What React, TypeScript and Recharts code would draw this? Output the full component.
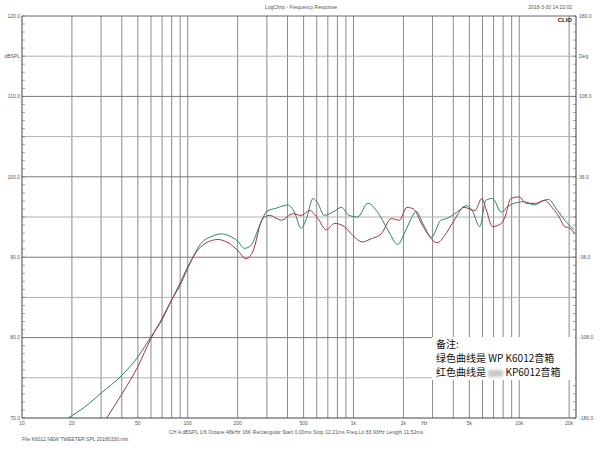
import React from 'react';
import { LineChart, Line, XAxis, YAxis, ReferenceLine } from 'recharts';

// WP K6012 (green) and KP6012 (red), SPL in dB vs frequency in Hz
const GREEN_FREQ = [
  19, 24, 30, 40, 50, 60, 70, 80, 90, 100, 120, 140, 160, 180, 200, 220, 241,
  272, 300, 343, 402, 440, 483, 520, 570, 610, 665, 750, 845, 940, 1060, 1220,
  1400, 1610, 1850, 2030, 2230, 2380, 2650, 2950, 3370, 3640, 4200, 4790, 5200,
  5780, 6300, 6900, 7800, 8400, 9300, 10700, 12400, 13600, 15000, 17000, 19200,
  21500,
];
const GREEN_DB = [
  70.0, 71.4, 73.1, 75.3, 77.6, 80.1, 82.2, 84.7, 86.5, 88.6, 91.7, 92.6, 92.9,
  92.6, 92.0, 91.1, 91.5, 94.0, 95.7, 96.1, 96.5, 95.6, 93.6, 94.8, 97.3, 96.7,
  95.2, 95.6, 96.2, 95.2, 95.0, 96.7, 95.6, 93.4, 91.6, 93.0, 94.8, 95.7, 94.0,
  92.5, 94.6, 94.8, 95.6, 96.4, 95.8, 93.8, 97.1, 97.3, 95.6, 96.2, 96.7, 96.9,
  96.5, 96.9, 97.2, 95.8, 94.4, 93.4,
];

const RED_FREQ = [
  32.4, 40.4, 50, 60, 70, 80, 90, 100, 120, 152, 175, 199, 225, 247, 283, 312,
  367, 430, 483, 545, 610, 685, 770, 880, 990, 1130, 1280, 1470, 1690, 1890,
  2100, 2300, 2600, 3200, 3550, 4000, 4650, 5400, 5950, 6300, 6900, 7800, 8200,
  8900, 9970, 11000, 12500, 14300, 15300, 17400, 18800, 20200, 21600,
];
const RED_DB = [
  70.0, 73.1, 76.4, 79.9, 82.4, 84.7, 86.8, 88.8, 91.3, 92.2, 91.8, 90.9, 89.8,
  90.7, 94.8, 95.2, 94.6, 95.4, 95.2, 95.8, 94.8, 93.4, 94.2, 93.8, 92.7, 91.9,
  92.3, 92.9, 94.8, 94.6, 96.2, 96.0, 94.0, 91.8, 92.7, 94.4, 96.2, 95.8, 97.3,
  96.0, 93.8, 94.2, 95.0, 97.3, 97.5, 96.7, 96.7, 97.1, 96.5, 95.0, 93.8, 93.6,
  92.9,
];

const FREQ_TICKS = [10, 20, 50, 100, 200, 500, 1000, 2000, 2680, 5000, 10000, 20000];
const FREQ_LABELS = ['10', '20', '50', '100', '200', '500', '1k', '2k', 'Hz', '5k', '10k', '20k'];
const FREQ_GRID = [
  20, 30, 40, 50, 60, 70, 80, 90, 100, 200, 300, 400, 500, 600, 700, 800, 900,
  1000, 2000, 3000, 4000, 5000, 6000, 7000, 8000, 9000, 10000, 20000,
];
const DB_GRID_MAJOR = [80, 90, 100, 110];
const DB_GRID_MINOR = [75, 85, 95, 105, 115];
const DB_LABELS: Record<number, string> = {
  120: '120.0', 115: 'dBSPL', 110: '110.0', 100: '100.0', 90: '90.0', 80: '80.0', 70: '70.0',
};
const DEG_LABELS: [number, string][] = [
  [180, '180.0'], [144, 'Deg'], [108, '108.0'], [36, '36.0'], [-36, '-36.0'], [-108, '-108.0'], [-180, '-180.0'],
];

const DB_TICKS = Array.from({ length: 51 }, (_, i) => 70 + i);
const DEG_TICKS = Array.from({ length: 51 }, (_, i) => -180 + i * 7.2);

const greenData = GREEN_FREQ.map((f, i) => ({ f, db: GREEN_DB[i] }));
const redData = RED_FREQ.map((f, i) => ({ f, db: RED_DB[i] }));

const FONT = 'Arial, "Liberation Sans", sans-serif';
const TXT = '#555';

function DbTick(props: any) {
  const { x, y, payload } = props;
  const label = DB_LABELS[payload.value];
  return (
    <g>
      <line x1={x + 2} x2={x + 5} y1={y} y2={y} stroke="#666" strokeWidth={0.6} />
      {label && (
        <text x={x} y={y} dy="0.35em" textAnchor="end" fontSize={5} fill={TXT} fontFamily={FONT}>
          {label}
        </text>
      )}
    </g>
  );
}

function DegTick(props: any) {
  const { x, y, payload } = props;
  const hit = DEG_LABELS.find(([v]) => Math.abs(v - payload.value) < 0.01);
  return (
    <g>
      <line x1={x - 3} x2={x - 6} y1={y} y2={y} stroke="#666" strokeWidth={0.6} />
      {hit && (
        <text x={x} y={y} dy="0.35em" textAnchor="start" fontSize={5} fill={TXT} fontFamily={FONT}>
          {hit[1]}
        </text>
      )}
    </g>
  );
}

function FreqTick(props: any) {
  const { x, y, payload } = props;
  const idx = FREQ_TICKS.indexOf(payload.value);
  return (
    <text x={x} y={y} dy="0.71em" textAnchor="middle" fontSize={5} fill={TXT} fontFamily={FONT}>
      {FREQ_LABELS[idx]}
    </text>
  );
}

export default function App() {
  return (
    <div style={{ position: 'absolute', left: 0, top: 0, width: 600, height: 450, background: '#fff', overflow: 'hidden' }}>
      <LineChart width={600} height={450} margin={{ top: 16, right: 0, bottom: 0, left: 0 }}>
        <XAxis
          dataKey="f"
          type="number"
          scale="log"
          domain={[10, 22000]}
          allowDataOverflow
          ticks={FREQ_TICKS}
          interval={0}
          tick={<FreqTick />}
          tickLine={false}
          tickSize={0}
          tickMargin={3}
          height={32}
          axisLine={{ stroke: '#444' }}
        />
        <YAxis
          yAxisId="db"
          type="number"
          domain={[70, 120]}
          allowDataOverflow
          ticks={DB_TICKS}
          interval={0}
          tick={<DbTick />}
          tickLine={false}
          tickSize={0}
          tickMargin={2}
          width={22}
          axisLine={{ stroke: '#444' }}
        />
        <YAxis
          yAxisId="deg"
          orientation="right"
          type="number"
          domain={[-180, 180]}
          allowDataOverflow
          ticks={DEG_TICKS}
          interval={0}
          tick={<DegTick />}
          tickLine={false}
          tickSize={0}
          tickMargin={3}
          width={24}
          axisLine={{ stroke: '#444' }}
        />
        {FREQ_GRID.map((f) => (
          <ReferenceLine key={'v' + f} x={f} yAxisId="db" stroke="#8a8a8a" strokeWidth={1} />
        ))}
        {DB_GRID_MINOR.map((v) => (
          <ReferenceLine key={'m' + v} y={v} yAxisId="db" stroke="#b0b0b0" strokeWidth={1} />
        ))}
        {DB_GRID_MAJOR.map((v) => (
          <ReferenceLine key={'M' + v} y={v} yAxisId="db" stroke="#7a7a7a" strokeWidth={1} />
        ))}
        <ReferenceLine y={120} yAxisId="db" stroke="#666" strokeWidth={1} />
        <Line
          data={greenData}
          dataKey="db"
          yAxisId="db"
          type="monotone"
          stroke="#2c8658"
          strokeWidth={1}
          dot={false}
          isAnimationActive={false}
        />
        <Line
          data={redData}
          dataKey="db"
          yAxisId="db"
          type="monotone"
          stroke="#a8323e"
          strokeWidth={1}
          dot={false}
          isAnimationActive={false}
        />
      </LineChart>

      <svg width={600} height={450} style={{ position: 'absolute', left: 0, top: 0, pointerEvents: 'none' }}>
        <text x={301} y={9} textAnchor="middle" fontSize={5} fill={TXT} fontFamily={FONT}>
          LogChirp - Frequency Response
        </text>
        <text x={572} y={9} textAnchor="end" fontSize={5} fill={TXT} fontFamily={FONT}>
          2018-3-30 14:22:02
        </text>
        <text x={572} y={22} textAnchor="end" fontSize={6} fontWeight="bold" fill="#222" fontFamily={FONT}>
          CLIO
        </text>
        <text x={169} y={434} fontSize={5} fill={TXT} fontFamily={FONT} textLength={254} lengthAdjust="spacing">
          CH A  dBSPL  1/6 Octave  48kHz  16K  Rectangular  Start 0.00ms  Stop 12.21ms  Freq.Lo 83.93Hz  Length 11.52ms
        </text>
        <text x={22} y={441} fontSize={5} fill={TXT} fontFamily={FONT}>
          File K6012 NEW TWEETER SPL 20180330.mls
        </text>
      </svg>

      <div
        style={{
          position: 'absolute',
          left: 432,
          top: 337,
          width: 143,
          height: 43,
          background: '#fff',
          fontFamily: '"Noto Sans CJK SC", sans-serif',
          fontSize: 10,
          lineHeight: '14px',
          color: '#111',
          paddingLeft: 4,
          boxSizing: 'border-box',
          whiteSpace: 'nowrap',
        }}
      >
        <div>备注:</div>
        <div>绿色曲线是 WP K6012音箱</div>
        <div>
          红色曲线是{' '}
          <span
            style={{
              display: 'inline-block',
              width: 15,
              height: 7,
              background: '#c8c8c8',
              filter: 'blur(1.5px)',
              verticalAlign: 'middle',
            }}
          />{' '}
          KP6012音箱
        </div>
      </div>
    </div>
  );
}
